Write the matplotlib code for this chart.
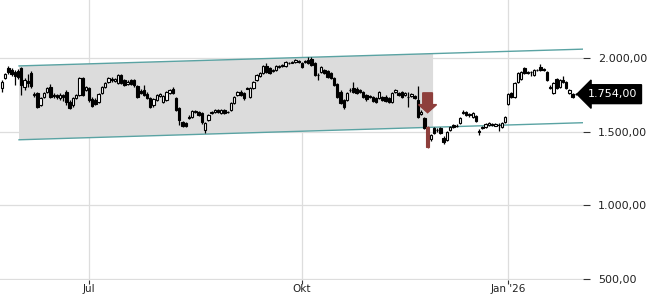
#!/usr/bin/env python3

import numpy as np
import matplotlib
matplotlib.use("Agg")
from matplotlib import pyplot as plt
from matplotlib.patches import Polygon, FancyArrow
from matplotlib.ticker import FuncFormatter
import matplotlib.transforms as mtransforms

# Daily candles, late May 2025 .. early Feb 2026 (one entry per trading day)
opens = [
    1796, 1864, 1932, 1919, 1905, 1912, 1932, 1803, 1844, 1898,
    1749, 1763, 1681, 1735, 1769, 1803, 1742, 1749, 1729, 1749,
    1769, 1702, 1681, 1729, 1749, 1864, 1783, 1796, 1722, 1715,
    1702, 1763, 1803, 1837, 1858, 1844, 1830, 1885, 1851, 1824,
    1851, 1851, 1810, 1776, 1783, 1756, 1729, 1681, 1715, 1742,
    1702, 1715, 1763, 1790, 1729, 1661, 1566, 1559, 1600, 1600,
    1634, 1634, 1627, 1512, 1579, 1627, 1634, 1647, 1627, 1647,
    1634, 1647, 1695, 1749, 1769, 1763, 1796, 1735, 1796, 1851,
    1878, 1898, 1946, 1932, 1912, 1919, 1939, 1946, 1946, 1966,
    1966, 1973, 1980, 1966, 1973, 1986, 1993, 1966, 1885, 1905,
    1919, 1912, 1898, 1864, 1824, 1769, 1715, 1715, 1783, 1796,
    1790, 1783, 1769, 1749, 1742, 1735, 1729, 1729, 1735, 1735,
    1729, 1702, 1769, 1763, 1769, 1749, 1735, 1742, 1742, 1715,
    1620, 1593, 1532, 1451, 1525, 1512, 1525, 1457, 1444, 1512,
    1545, 1539, 1559, 1627, 1634, 1620, 1600, 1607, 1505, 1525,
    1532, 1545, 1552, 1539, 1545, 1532, 1566, 1688, 1763, 1735,
    1837, 1858, 1932, 1898, 1905, 1885, 1919, 1939, 1925, 1905,
    1803, 1763, 1858, 1803, 1851, 1837, 1763, 1756, 1756, 1756,
]
highs = [
    1851, 1898, 1946, 1932, 1919, 1925, 1939, 1864, 1891, 1912,
    1769, 1769, 1735, 1769, 1803, 1824, 1763, 1756, 1763, 1756,
    1783, 1715, 1735, 1756, 1871, 1871, 1810, 1803, 1735, 1729,
    1763, 1810, 1837, 1871, 1871, 1864, 1891, 1891, 1858, 1851,
    1858, 1858, 1817, 1790, 1817, 1769, 1735, 1729, 1756, 1763,
    1749, 1776, 1790, 1803, 1735, 1668, 1573, 1566, 1613, 1647,
    1647, 1640, 1634, 1566, 1620, 1640, 1654, 1654, 1654, 1654,
    1640, 1702, 1742, 1776, 1783, 1769, 1800, 1803, 1844, 1891,
    1905, 1953, 1966, 1939, 1925, 1953, 1953, 1959, 1980, 1973,
    1980, 1993, 1986, 1973, 1986, 2007, 2007, 1973, 1898, 1946,
    1925, 1919, 1905, 1871, 1830, 1783, 1722, 1769, 1796, 1837,
    1803, 1790, 1776, 1756, 1749, 1742, 1735, 1776, 1742, 1749,
    1735, 1769, 1790, 1769, 1776, 1769, 1769, 1763, 1749, 1810,
    1647, 1600, 1539, 1485, 1532, 1525, 1532, 1471, 1505, 1539,
    1552, 1552, 1600, 1647, 1640, 1627, 1634, 1613, 1518, 1539,
    1559, 1566, 1559, 1559, 1559, 1566, 1607, 1763, 1769, 1837,
    1905, 1912, 1939, 1912, 1912, 1925, 1925, 1959, 1932, 1912,
    1817, 1837, 1864, 1858, 1878, 1844, 1790, 1763, 1763, 1763,
]
lows = [
    1769, 1858, 1891, 1878, 1817, 1858, 1749, 1783, 1803, 1796,
    1735, 1661, 1674, 1729, 1763, 1729, 1729, 1722, 1715, 1708,
    1681, 1654, 1668, 1722, 1742, 1742, 1776, 1702, 1668, 1681,
    1695, 1756, 1796, 1830, 1837, 1837, 1824, 1824, 1810, 1817,
    1817, 1803, 1729, 1756, 1742, 1722, 1661, 1668, 1708, 1735,
    1695, 1708, 1756, 1756, 1640, 1545, 1532, 1532, 1586, 1593,
    1627, 1607, 1552, 1491, 1573, 1620, 1627, 1627, 1620, 1620,
    1627, 1640, 1688, 1742, 1742, 1715, 1788, 1729, 1790, 1844,
    1871, 1891, 1898, 1891, 1905, 1912, 1932, 1939, 1939, 1959,
    1964, 1966, 1966, 1932, 1966, 1959, 1946, 1878, 1851, 1898,
    1891, 1864, 1858, 1810, 1729, 1688, 1654, 1708, 1769, 1763,
    1756, 1763, 1729, 1708, 1729, 1702, 1695, 1722, 1708, 1702,
    1695, 1695, 1763, 1742, 1729, 1742, 1668, 1735, 1722, 1593,
    1613, 1518, 1389, 1437, 1485, 1498, 1485, 1417, 1437, 1505,
    1525, 1532, 1552, 1620, 1607, 1600, 1593, 1566, 1478, 1518,
    1525, 1539, 1539, 1537, 1505, 1525, 1559, 1681, 1729, 1729,
    1830, 1851, 1891, 1891, 1878, 1878, 1912, 1912, 1912, 1844,
    1790, 1756, 1790, 1796, 1830, 1790, 1756, 1729, 1749, 1749,
]
closes = [
    1837, 1891, 1905, 1891, 1878, 1871, 1817, 1851, 1830, 1810,
    1756, 1668, 1729, 1763, 1796, 1735, 1749, 1735, 1749, 1735,
    1702, 1661, 1729, 1749, 1864, 1749, 1803, 1715, 1674, 1688,
    1756, 1803, 1830, 1864, 1851, 1858, 1885, 1830, 1817, 1837,
    1824, 1817, 1735, 1763, 1749, 1729, 1668, 1722, 1749, 1756,
    1742, 1769, 1783, 1763, 1647, 1579, 1539, 1539, 1593, 1640,
    1640, 1613, 1566, 1559, 1613, 1634, 1647, 1634, 1647, 1627,
    1632, 1695, 1735, 1769, 1749, 1729, 1790, 1796, 1837, 1885,
    1898, 1946, 1905, 1898, 1919, 1946, 1946, 1953, 1973, 1968,
    1973, 1986, 1973, 1939, 1980, 1966, 1953, 1885, 1883, 1939,
    1898, 1871, 1864, 1817, 1735, 1695, 1668, 1763, 1781, 1769,
    1763, 1769, 1735, 1722, 1735, 1708, 1702, 1769, 1715, 1708,
    1702, 1763, 1783, 1749, 1735, 1763, 1737, 1756, 1729, 1600,
    1634, 1525, 1396, 1478, 1491, 1510, 1491, 1430, 1498, 1532,
    1532, 1537, 1593, 1634, 1613, 1613, 1627, 1573, 1498, 1532,
    1552, 1559, 1545, 1552, 1543, 1559, 1600, 1756, 1735, 1830,
    1898, 1905, 1898, 1905, 1903, 1919, 1917, 1919, 1919, 1851,
    1796, 1830, 1796, 1851, 1837, 1796, 1783, 1735, 1754, 1754,
]

# trend channel (start/end values) and signal candle
channel_x = [5.3, 180.2]
channel_upper = [1946, 2060]
channel_lower = [1444, 1560]
box_end = 133.7
signal_idx = 132
last_price = 1754.00

tick_pos = [27, 93, 157]
tick_labels = ["Jul", "Okt", "Jan '26"]
y_ticks = [500, 1000, 1500, 2000]


def de_fmt(v, pos=None):
    s = f"{v:,.2f}"
    return s.replace(",", "X").replace(".", ",").replace("X", ".")


fig = plt.figure(figsize=(6.5, 3), dpi=100)
ax = fig.add_axes([0, 20 / 300, 583 / 650, 280 / 300])
ax.set_xlim(-0.6, 180.2)
ax.set_ylim(491, 2394)

for s in ax.spines.values():
    s.set_visible(False)

ax.set_yticks(y_ticks)
ax.yaxis.set_major_formatter(FuncFormatter(de_fmt))
ax.yaxis.tick_right()
ax.tick_params(axis="y", length=5, width=0.8, color="#333333", pad=6,
               labelsize=8, labelcolor="#222222")
ax.set_xticks(tick_pos)
ax.set_xticklabels(tick_labels)
ax.tick_params(axis="x", length=3, width=0.8, color="#333333", pad=0,
               labelsize=7.5, labelcolor="#222222")
ax.grid(True, color="#dddddd", linewidth=0.9)
ax.set_axisbelow(True)

# shaded channel area
slope_u = (channel_upper[1] - channel_upper[0]) / (channel_x[1] - channel_x[0])
slope_l = (channel_lower[1] - channel_lower[0]) / (channel_x[1] - channel_x[0])
up_end = channel_upper[0] + slope_u * (box_end - channel_x[0])
lo_end = channel_lower[0] + slope_l * (box_end - channel_x[0])
poly = Polygon([(channel_x[0], channel_upper[0]), (box_end, up_end),
                (box_end, lo_end), (channel_x[0], channel_lower[0])],
               closed=True, facecolor="#dcdcdc", edgecolor="none", zorder=1)
ax.add_patch(poly)
ax.plot(channel_x, channel_upper, color="#5aa3a3", lw=1.0, zorder=2)
ax.plot(channel_x, channel_lower, color="#5aa3a3", lw=1.0, zorder=2)

# candles
idx = np.arange(len(closes))
o = np.array(opens)
c = np.array(closes)
h = np.array(highs)
l = np.array(lows)
red = "#8e3f3c"
wick_col = ["black"] * len(idx)
wick_col[signal_idx] = red
ax.vlines(idx, l, h, colors=wick_col, lw=0.9, zorder=3)
body_lo = np.minimum(o, c)
body_h = np.maximum(np.abs(c - o), 2)
face = np.where(c >= o, "white", "black").tolist()
edge = ["black"] * len(idx)
face[signal_idx] = red
edge[signal_idx] = red
ax.bar(idx, body_h, bottom=body_lo, width=0.75, color=face,
       edgecolor=edge, linewidth=0.8, zorder=4)

# down arrow above the signal candle
ax.add_patch(FancyArrow(signal_idx, 1763, 0, -135, width=3.0, head_width=5.6,
                        head_length=55, length_includes_head=True,
                        color=red, zorder=5))

# last price tag
trans = mtransforms.blended_transform_factory(ax.transAxes, ax.transData)
ax.text(1.008, last_price, de_fmt(last_price), transform=trans, ha="left",
        va="center", color="white", fontsize=8, clip_on=False, zorder=6,
        bbox=dict(boxstyle="larrow,pad=0.4", fc="black", ec="black"))

fig.savefig("out.png", dpi=100)
